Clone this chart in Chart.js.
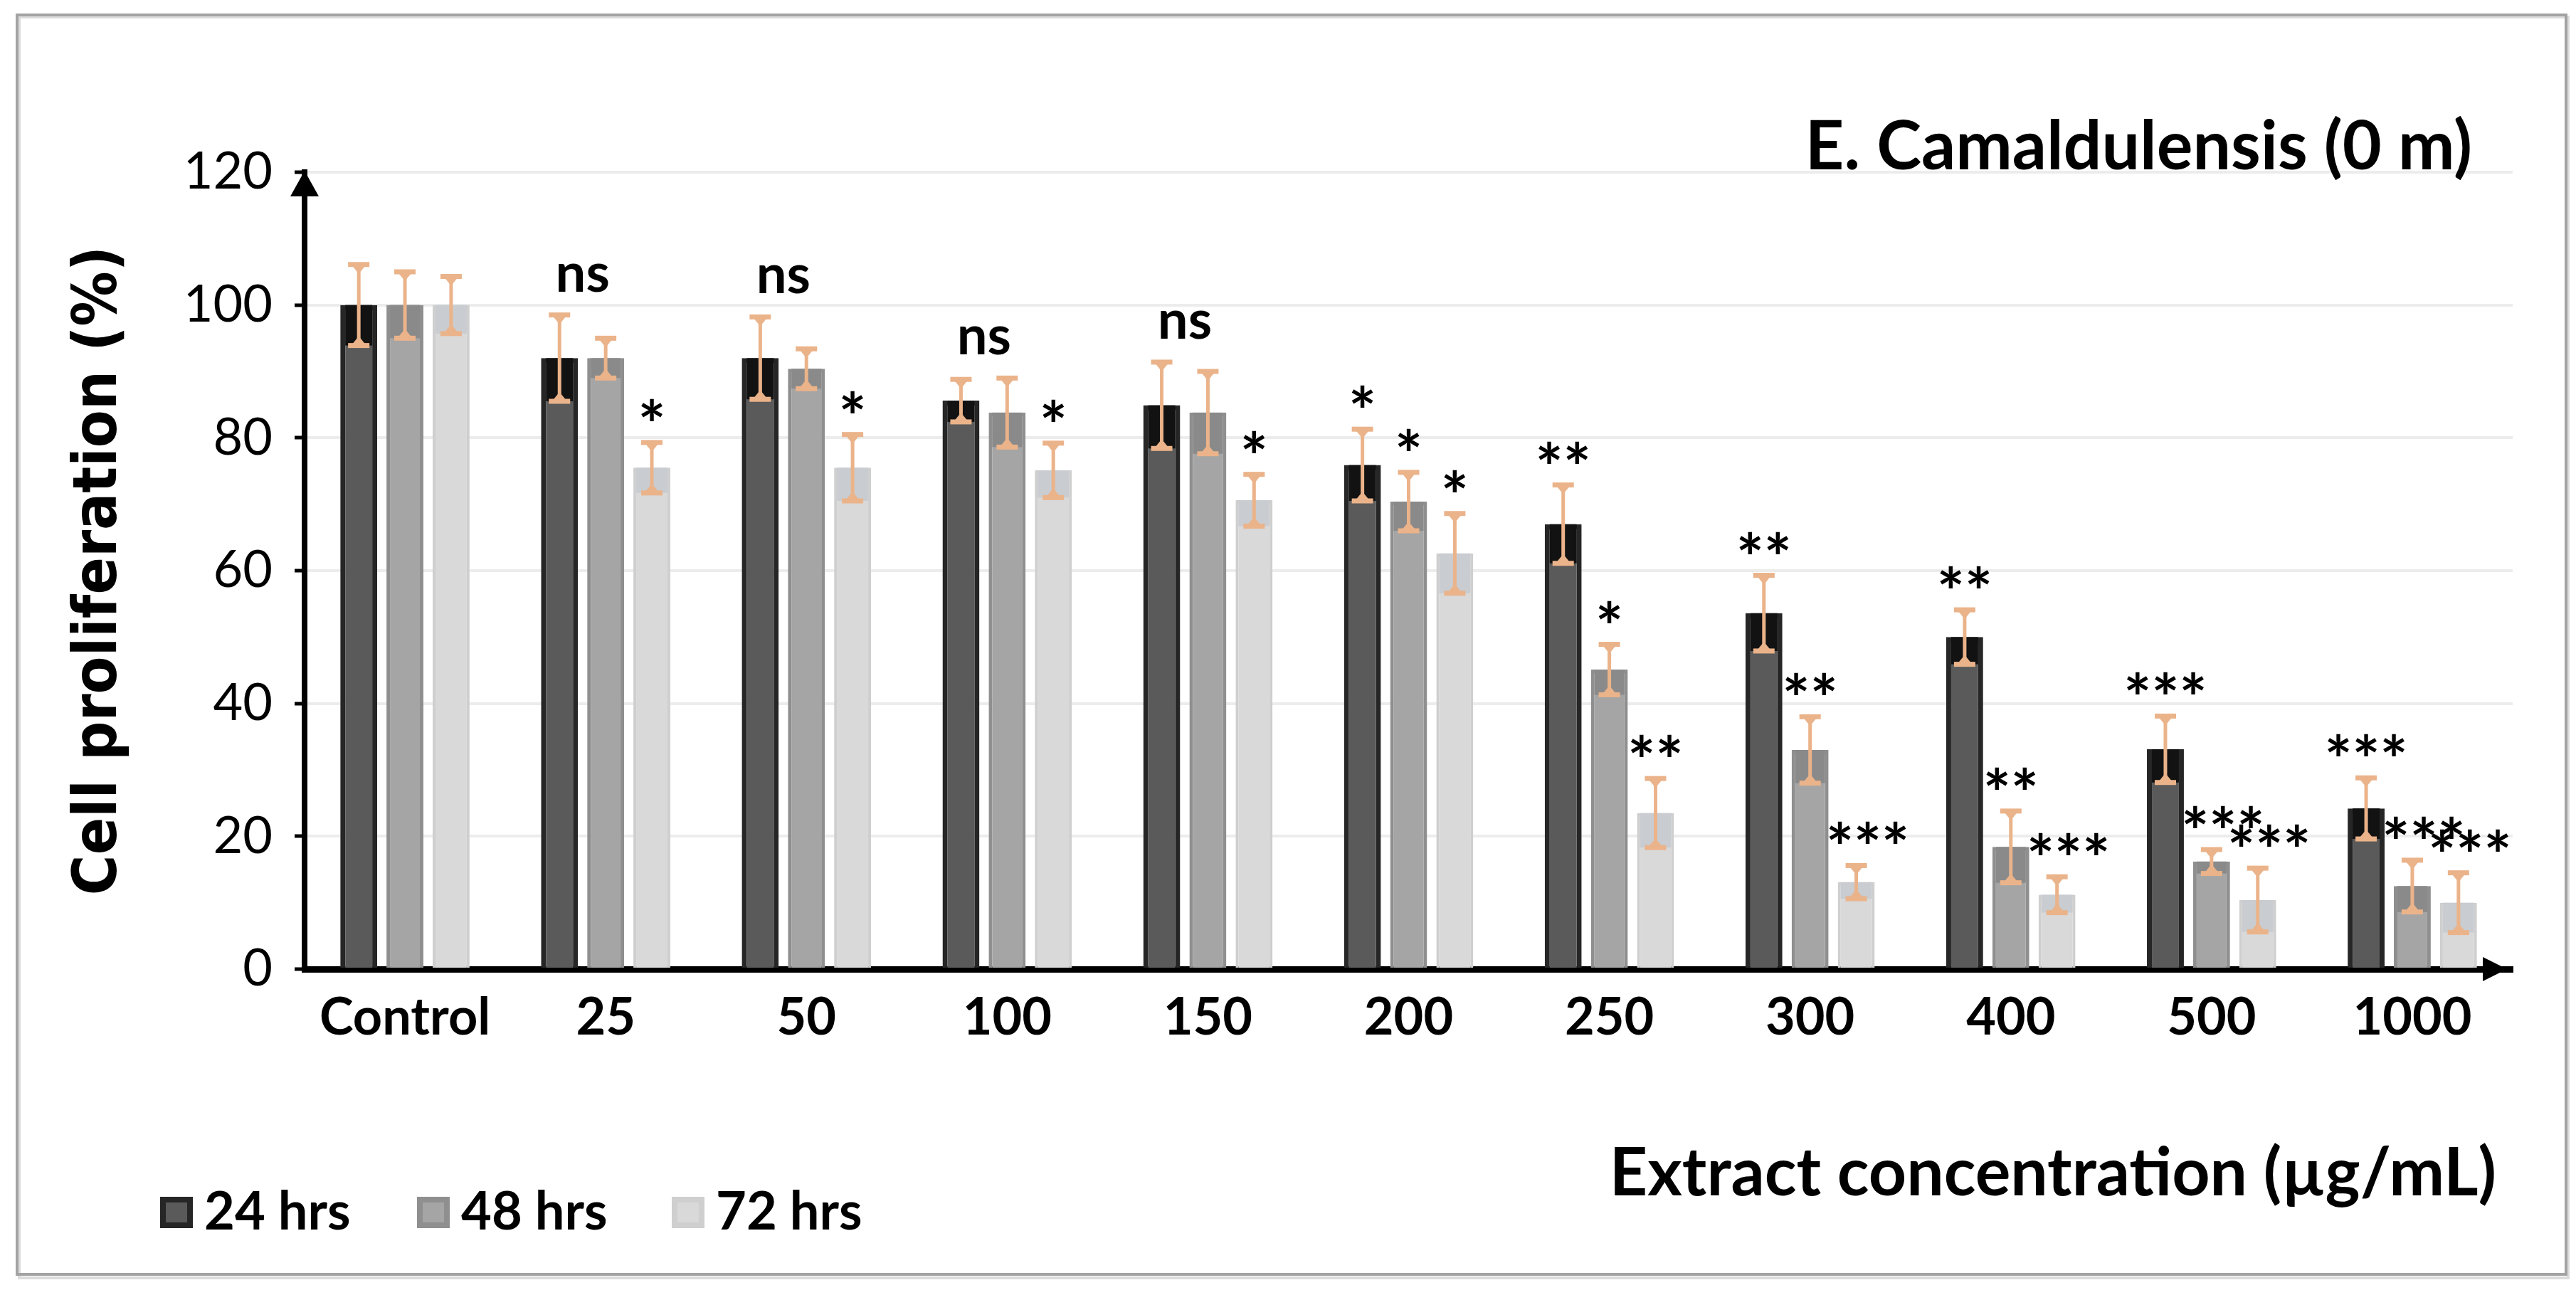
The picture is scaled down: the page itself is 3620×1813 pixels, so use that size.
<!DOCTYPE html>
<html>
<head>
<meta charset="utf-8">
<title>E. Camaldulensis (0 m) – cell proliferation</title>
<script src="https://cdn.jsdelivr.net/npm/chart.js@4.4.1/dist/chart.umd.min.js"></script>
<style>
  html, body { margin: 0; padding: 0; background: #fff; overflow: hidden; }
  #wrap { position: relative; width: 3620px; height: 1813px; }
</style>
</head>
<body>
<div id="wrap"><canvas id="chart"></canvas></div>
<script>
// ---------------------------------------------------------------
// DATA
// ---------------------------------------------------------------

const categories = ['Control', '25', '50', '100', '150', '200', '250', '300', '400', '500', '1000'];
const seriesNames = ['24 hrs', '48 hrs', '72 hrs'];

const values24 = [100, 92, 92, 85.6, 84.9, 75.9, 67, 53.6, 50, 33.1, 24.2];
const values48 = [100, 92, 90.4, 83.8, 83.8, 70.4, 45.1, 33, 18.4, 16.2, 12.5];
const values72 = [100, 75.5, 75.5, 75.1, 70.6, 62.6, 23.5, 13.1, 11.2, 10.4, 10];

const errors24 = [6.1, 6.5, 6.2, 3.2, 6.5, 5.4, 5.9, 5.7, 4.1, 5.0, 4.6];
const errors48 = [5, 3, 3, 5.2, 6.2, 4.4, 3.8, 5, 5.4, 1.8, 3.9];
const errors72 = [4.3, 3.8, 5, 4.1, 3.9, 6, 5.2, 2.5, 2.7, 4.8, 4.5];

// significance marks; 'ns' on the 24 hrs series spans the 24/48 pair
const marks24 = ['', 'ns', 'ns', 'ns', 'ns', '*', '**', '**', '**', '***', '***'];
const marks48 = ['', '', '', '', '', '*', '*', '**', '**', '***', '***'];
const marks72 = ['', '*', '*', '*', '*', '*', '**', '***', '***', '***', '***'];

const yTicks = [0, 20, 40, 60, 80, 100, 120];

const chartTitle = 'E. Camaldulensis (0 m)';
const xTitle = 'Extract concentration (µg/mL)';
const yTitle = 'Cell proliferation (%)';

// ---------------------------------------------------------------
// LAYOUT / STYLE
// ---------------------------------------------------------------

const W = 3620, H = 1813;
const AREA = { left: 428, top: 242, right: 3531, bottom: 1362 };
const ERR_COLOR = '#EBB38A';
const TICK_FONT = 'Lato, "Open Sans", sans-serif';

// ---------------------------------------------------------------
// PLUGINS
// ---------------------------------------------------------------

const frame = {
  id: 'frame',
  beforeDraw(chart) {
    const { ctx } = chart;
    ctx.save();
    ctx.fillStyle = '#fff';
    ctx.fillRect(0, 0, W, H);
    ctx.strokeStyle = '#dcdcdc';
    ctx.lineWidth = 4;
    ctx.strokeRect(27, 24, 3582, 1772);
    ctx.strokeStyle = '#a3a3a3';
    ctx.lineWidth = 4;
    ctx.strokeRect(24, 21, 3582, 1770);
    ctx.restore();
  }
};

const errorBars = {
  id: 'errorBars',
  afterDatasetsDraw(chart) {
    const { ctx, scales: { y } } = chart;
    ctx.save();
    chart.data.datasets.forEach((ds, di) => {
      const meta = chart.getDatasetMeta(di);
      meta.data.forEach((bar, i) => {
        const v = ds.data[i];
        const e = ds.errors[i];
        const top = y.getPixelForValue(v + e);
        const bot = y.getPixelForValue(v - e);
        const x = bar.x;

        // darker band where the lower whisker overlaps the bar
        const inset = ds.borderWidth;
        ctx.fillStyle = ds.bandColor;
        ctx.fillRect(bar.x - bar.width / 2 + inset, bar.y, bar.width - 2 * inset, Math.min(bot, bar.base) - bar.y);

        ctx.strokeStyle = ERR_COLOR;
        ctx.fillStyle = ERR_COLOR;
        ctx.lineWidth = 5;
        ctx.beginPath();
        ctx.moveTo(x, top);
        ctx.lineTo(x, bot);
        ctx.stroke();

        ctx.lineWidth = 7;
        [[top, 1], [bot, -1]].forEach(([py, dir]) => {
          ctx.beginPath();
          ctx.moveTo(x - 15, py);
          ctx.lineTo(x + 15, py);
          ctx.stroke();
          ctx.beginPath();
          ctx.moveTo(x - 9, py + dir * 2);
          ctx.lineTo(x + 9, py + dir * 2);
          ctx.lineTo(x, py + dir * 13);
          ctx.closePath();
          ctx.fill();
        });
      });
    });
    ctx.restore();
  }
};

const sigMarks = {
  id: 'sigMarks',
  afterDatasetsDraw(chart) {
    const { ctx, scales: { y } } = chart;
    const sets = chart.data.datasets;
    ctx.save();
    ctx.fillStyle = '#000';
    ctx.textAlign = 'center';
    ctx.textBaseline = 'alphabetic';
    sets.forEach((ds, di) => {
      const meta = chart.getDatasetMeta(di);
      ds.marks.forEach((m, i) => {
        if (!m) return;
        const errTop = y.getPixelForValue(ds.data[i] + ds.errors[i]);
        if (m === 'ns') {
          const next = sets[di + 1];
          const nextTop = y.getPixelForValue(next.data[i] + next.errors[i]);
          const x = (meta.data[i].x + chart.getDatasetMeta(di + 1).data[i].x) / 2;
          ctx.font = 'bold 76px ' + TICK_FONT;
          ctx.fillText(m, x, Math.min(errTop, nextTop) - 33);
        } else {
          // the crowded triple marks of the later series sit a little to the right
          const shift = (m === '***' && di > 0) ? 16 : 0;
          ctx.font = 'bold 92px ' + TICK_FONT;
          ctx.fillText(m, meta.data[i].x + shift, errTop + 9);
        }
      });
    });
    ctx.restore();
  }
};

const decorations = {
  id: 'decorations',
  afterDraw(chart) {
    const { ctx, chartArea: a } = chart;
    ctx.save();

    // axis arrowheads
    ctx.fillStyle = '#000';
    ctx.beginPath();
    ctx.moveTo(a.left, a.top - 2);
    ctx.lineTo(a.left - 20, a.top + 34);
    ctx.lineTo(a.left + 20, a.top + 34);
    ctx.closePath();
    ctx.fill();

    ctx.beginPath();
    ctx.moveTo(a.right - 8, a.bottom);
    ctx.lineTo(a.right - 42, a.bottom - 17);
    ctx.lineTo(a.right - 42, a.bottom + 17);
    ctx.closePath();
    ctx.fill();

    // chart title inside the plot, top right
    ctx.textAlign = 'right';
    ctx.textBaseline = 'alphabetic';
    ctx.font = 'bold 95px ' + TICK_FONT;
    ctx.fillText(chartTitle, 3474, 238);

    // x axis title, bottom right
    ctx.font = 'bold 93px ' + TICK_FONT;
    ctx.fillText(xTitle, 3508, 1680);

    // legend, bottom left
    const legendX = [225, 586, 944];
    ctx.textAlign = 'left';
    ctx.font = 'bold 74px ' + TICK_FONT;
    chart.data.datasets.forEach((ds, di) => {
      const lx = legendX[di];
      ctx.fillStyle = ds.borderColor;
      ctx.fillRect(lx, 1682, 46, 44);
      ctx.fillStyle = ds.backgroundColor;
      ctx.fillRect(lx + 8, 1690, 30, 28);
      ctx.fillStyle = '#000';
      ctx.fillText(ds.label, lx + 62, 1728);
    });

    ctx.restore();
  }
};

// ---------------------------------------------------------------
// CHART
// ---------------------------------------------------------------

function buildDataset(label, data, errors, marks, fill, border, borderWidth, band) {
  return {
    label,
    data,
    errors,
    marks,
    backgroundColor: fill,
    borderColor: border,
    borderWidth,
    borderSkipped: 'bottom',
    bandColor: band,
    categoryPercentage: 0.69,
    barPercentage: 0.8
  };
}

Chart.defaults.devicePixelRatio = 1;
Chart.defaults.animation = false;

new Chart(document.getElementById('chart'), {
  type: 'bar',
  data: {
    labels: categories,
    datasets: [
      buildDataset(seriesNames[0], values24, errors24, marks24, '#5a5a5a', '#262626', 7, '#121212'),
      buildDataset(seriesNames[1], values48, errors48, marks48, '#a5a5a5', '#8f8f8f', 5, '#8a8a8a'),
      buildDataset(seriesNames[2], values72, errors72, marks72, '#d9d9d9', '#cfcfcf', 4, '#c9ccd0')
    ]
  },
  options: {
    responsive: true,
    maintainAspectRatio: false,
    layout: { padding: { left: 0, top: AREA.top, right: W - AREA.right, bottom: 0 } },
    plugins: {
      legend: { display: false },
      tooltip: { enabled: false },
      title: { display: false }
    },
    scales: {
      x: {
        grid: { display: false, drawTicks: false },
        border: { display: true, color: '#000', width: 9 },
        ticks: {
          color: '#000',
          padding: 26,
          font: { family: TICK_FONT, size: 72, weight: 'bold' }
        },
        afterFit(scale) { scale.height = H - AREA.bottom; }
      },
      y: {
        min: 0,
        max: 120,
        afterBuildTicks(scale) { scale.ticks = yTicks.map((v) => ({ value: v })); },
        grid: {
          color: '#ececec',
          lineWidth: 4,
          drawTicks: true,
          tickLength: 14,
          tickColor: '#000',
          tickWidth: 5
        },
        border: { display: true, color: '#000', width: 8 },
        ticks: {
          color: '#000',
          padding: 31,
          font: { family: TICK_FONT, size: 72 }
        },
        title: {
          display: true,
          text: yTitle,
          color: '#000',
          padding: { top: 89, bottom: 0 },
          font: { family: '"DejaVu Sans Condensed", "DejaVu Sans", sans-serif', size: 86, weight: 'bold' }
        },
        afterFit(scale) { scale.width = AREA.left; }
      }
    }
  },
  plugins: [frame, errorBars, sigMarks, decorations]
});
</script>
</body>
</html>
